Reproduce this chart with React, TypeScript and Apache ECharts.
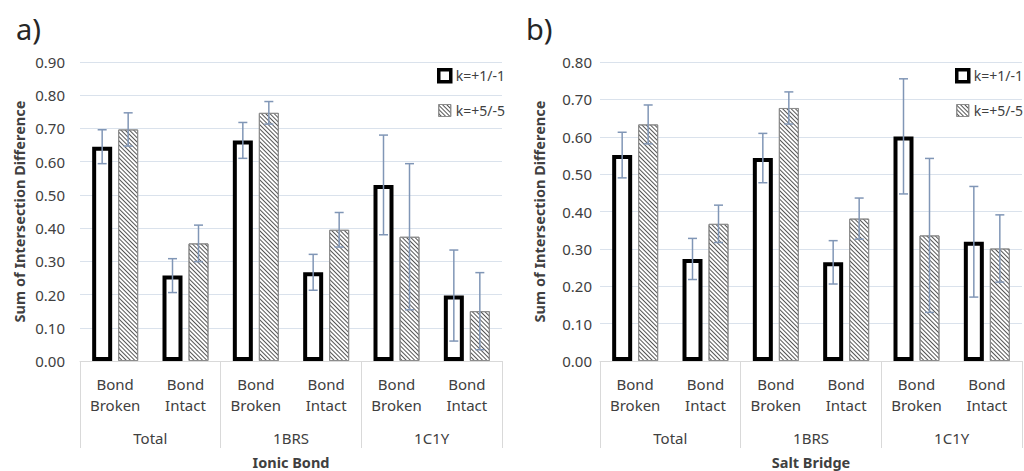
import React, { useEffect, useRef } from "react";
import * as echarts from "echarts";

const subCategories = ["Bond\nBroken", "Bond\nIntact", "Bond\nBroken", "Bond\nIntact", "Bond\nBroken", "Bond\nIntact"];
const groups = ["Total", "1BRS", "1C1Y"];
const seriesNames = ["k=+1/-1", "k=+5/-5"];

// a) Ionic Bond
const ionicK1 = [0.645, 0.257, 0.664, 0.267, 0.53, 0.197];
const ionicK1Err = [0.051, 0.051, 0.054, 0.054, 0.15, 0.137];
const ionicK5 = [0.697, 0.354, 0.747, 0.395, 0.374, 0.15];
const ionicK5Err = [0.05, 0.055, 0.034, 0.052, 0.22, 0.116];

// b) Salt Bridge
const saltK1 = [0.551, 0.273, 0.543, 0.264, 0.601, 0.319];
const saltK1Err = [0.061, 0.055, 0.066, 0.058, 0.154, 0.148];
const saltK5 = [0.633, 0.367, 0.677, 0.381, 0.336, 0.301];
const saltK5Err = [0.052, 0.05, 0.043, 0.055, 0.206, 0.09];

const FONT = "Noto Sans";
const TEXT = "#404040";
const GRID_LINE = "#dae2ec";
const AXIS_LINE = "#d9d9d9";
const ERR_COLOR = "#8096b6";
const BAR_W = 20;
const BAR_GAP = 6;

const hatch = {
  symbol: "rect",
  symbolSize: 1,
  dashArrayX: [1, 0],
  dashArrayY: [1, 1.8],
  rotation: Math.PI / 4,
  color: "#555555",
};

function errSeries(gridIdx: number, vals: number[], errs: number[], offset: number) {
  return {
    type: "custom",
    xAxisIndex: gridIdx * 2,
    yAxisIndex: gridIdx,
    z: 5,
    silent: true,
    data: vals.map((v, i) => [i, v - errs[i], v + errs[i]]),
    renderItem: (params: any, api: any) => {
      const i = api.value(0);
      const lo = api.coord([i, api.value(1)]);
      const hi = api.coord([i, api.value(2)]);
      const x = lo[0] + offset;
      const cap = 4.5;
      const style = { stroke: ERR_COLOR, lineWidth: 1.5 };
      return {
        type: "group",
        children: [
          { type: "line", shape: { x1: x, y1: hi[1], x2: x, y2: lo[1] }, style },
          { type: "line", shape: { x1: x - cap, y1: hi[1], x2: x + cap, y2: hi[1] }, style },
          { type: "line", shape: { x1: x - cap, y1: lo[1], x2: x + cap, y2: lo[1] }, style },
        ],
      };
    },
  };
}

function panel(gridIdx: number, k1: number[], k1e: number[], k5: number[], k5e: number[]) {
  const off = (BAR_W + BAR_GAP) / 2;
  return [
    {
      name: seriesNames[0],
      type: "bar",
      xAxisIndex: gridIdx * 2,
      yAxisIndex: gridIdx,
      data: k1,
      barWidth: BAR_W,
      barGap: (BAR_GAP / BAR_W) * 100 + "%",
      itemStyle: { color: "#ffffff", borderColor: "#000000", borderWidth: 4 },
    },
    {
      name: seriesNames[1],
      type: "bar",
      xAxisIndex: gridIdx * 2,
      yAxisIndex: gridIdx,
      data: k5,
      barWidth: BAR_W,
      barGap: (BAR_GAP / BAR_W) * 100 + "%",
      itemStyle: { color: "#ffffff", borderColor: "#8c8c8c", borderWidth: 1, decal: hatch },
    },
    errSeries(gridIdx, k1, k1e, -off),
    errSeries(gridIdx, k5, k5e, off),
  ];
}

function xAxes(gridIdx: number, title: string) {
  return [
    {
      type: "category",
      gridIndex: gridIdx,
      data: subCategories,
      axisLine: { show: true, lineStyle: { color: AXIS_LINE, width: 1 } },
      axisTick: { show: false },
      axisLabel: { color: TEXT, fontFamily: FONT, fontSize: 15, lineHeight: 21, margin: 12, interval: 0 },
    },
    {
      type: "category",
      gridIndex: gridIdx,
      position: "bottom",
      offset: 87,
      data: groups,
      axisLine: { show: false },
      axisTick: { show: true, inside: true, length: 87, lineStyle: { color: AXIS_LINE, width: 1 } },
      axisLabel: { inside: true, margin: 3, color: TEXT, fontFamily: FONT, fontSize: 15, interval: 0 },
      name: title,
      nameLocation: "middle",
      nameGap: 6,
      nameTextStyle: { color: TEXT, fontFamily: FONT, fontSize: 14.5, fontWeight: "bold", verticalAlign: "top" },
    },
  ];
}

function yAxis(gridIdx: number, max: number, margin: number) {
  return {
    type: "value",
    gridIndex: gridIdx,
    min: 0,
    max,
    interval: 0.1,
    axisLine: { show: false },
    axisTick: { show: false },
    splitLine: { lineStyle: { color: GRID_LINE, width: 1 } },
    axisLabel: {
      color: TEXT,
      fontFamily: FONT,
      fontSize: 15,
      margin,
      formatter: (v: number) => v.toFixed(2),
    },
    name: "Sum of Intersection Difference",
    nameLocation: "middle",
    nameRotate: 90,
    nameGap: 54,
    nameTextStyle: { color: TEXT, fontFamily: FONT, fontSize: 14.5, fontWeight: "bold" },
  };
}

function legend(left: number) {
  return {
    orient: "vertical",
    left,
    top: 63,
    itemWidth: 12,
    itemHeight: 12,
    itemGap: 20,
    icon: "rect",
    textStyle: { color: TEXT, fontFamily: FONT, fontSize: 14 },
    data: [
      { name: seriesNames[0], itemStyle: { color: "#ffffff", borderColor: "#000000", borderWidth: 3.5 } },
      { name: seriesNames[1], itemStyle: { color: "#ffffff", borderColor: "#8c8c8c", borderWidth: 1, decal: hatch } },
    ],
  };
}

export default function App() {
  const ref = useRef<HTMLDivElement>(null);
  useEffect(() => {
    if (!ref.current) return;
    const chart = echarts.init(ref.current, undefined, { renderer: "svg" });
    chart.setOption({
      animation: false,
      backgroundColor: "#ffffff",
      grid: [
        { left: 80, right: 522, top: 62, bottom: 110, containLabel: false, outerBoundsMode: "none" },
        { left: 600, right: 2, top: 62, bottom: 110, containLabel: false, outerBoundsMode: "none" },
      ],
      xAxis: [...xAxes(0, "Ionic Bond"), ...xAxes(1, "Salt Bridge")],
      yAxis: [yAxis(0, 0.9, 15), yAxis(1, 0.8, 8)],
      legend: [legend(432), legend(950)],
      graphic: [
        { type: "text", left: 16, top: 14, style: { text: "a)", fontFamily: FONT, fontSize: 29, fill: "#262626" } },
        { type: "text", left: 526, top: 14, style: { text: "b)", fontFamily: FONT, fontSize: 29, fill: "#262626" } },
      ],
      series: [
        ...panel(0, ionicK1, ionicK1Err, ionicK5, ionicK5Err),
        ...panel(1, saltK1, saltK1Err, saltK5, saltK5Err),
      ],
    });
    return () => chart.dispose();
  }, []);
  return (
    <div
      ref={ref}
      style={{ position: "absolute", left: 0, top: 0, width: 1024, height: 471, background: "#fff" }}
    />
  );
}
